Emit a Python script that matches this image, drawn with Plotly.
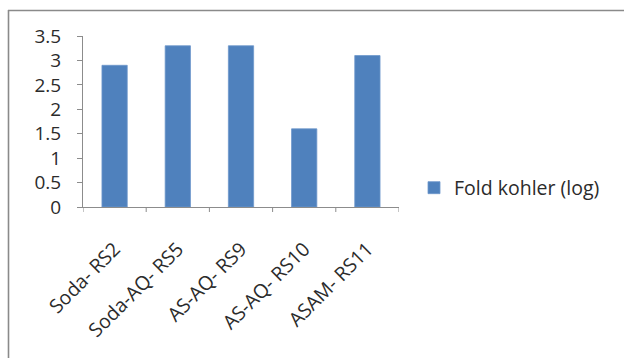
import plotly.graph_objects as go

# Pulping samples and their folding endurance (log of double folds)
categories = ["Soda- RS2", "Soda-AQ- RS5", "AS-AQ- RS9", "AS-AQ- RS10", "ASAM- RS11"]
fold_kohler_log = [2.9, 3.3, 3.3, 1.6, 3.1]
y_ticks = [0, 0.5, 1, 1.5, 2, 2.5, 3, 3.5]
y_tick_labels = ["0", "0.5", "1", "1.5", "2", "2.5", "3", "3.5"]
series_name = "Fold kohler (log)"

W, H = 624, 358
L, R, T, B = 83, 225, 36, 151
pw, ph = W - L - R, H - T - B


def px_x(x):
    return (x - L) / pw


def px_y(y):
    return (H - B - y) / ph


font_family = "'Open Sans', Lato, sans-serif"
axis_col = "#8c8c8c"
text_col = "#2b2b2b"

fig = go.Figure(
    go.Bar(
        x=categories,
        y=fold_kohler_log,
        name=series_name,
        marker=dict(color="#4F81BD", line=dict(color="#6d97cb", width=0.8)),
        width=0.4,
        showlegend=True,
    )
)

# visible category-boundary tick marks below the x axis
boundary_ticks = [
    dict(type="line", xref="x", yref="paper",
         x0=i - 0.5, x1=i - 0.5, y0=0, y1=-5 / ph,
         line=dict(color=axis_col, width=1))
    for i in range(len(categories) + 1)
]

frame = [
    dict(type="line", xref="paper", yref="paper",
         x0=px_x(8), x1=px_x(W + 5), y0=px_y(10.5), y1=px_y(10.5),
         line=dict(color="#8a8a8a", width=1.6)),
    dict(type="line", xref="paper", yref="paper",
         x0=px_x(8.5), x1=px_x(8.5), y0=px_y(10), y1=px_y(H + 5),
         line=dict(color="#8a8a8a", width=1.6)),
]

fig.update_layout(
    width=W,
    height=H,
    margin=dict(l=L, r=R, t=T, b=B, pad=0),
    paper_bgcolor="white",
    plot_bgcolor="white",
    font=dict(family=font_family, color=text_col),
    showlegend=True,
    legend=dict(
        x=px_x(414),
        y=px_y(188),
        xanchor="left",
        yanchor="middle",
        font=dict(size=19.5, color=text_col),
        bgcolor="rgba(0,0,0,0)",
    ),
    xaxis=dict(
        type="category",
        showline=True,
        linecolor=axis_col,
        linewidth=1,
        ticks="outside",
        ticklen=22,
        tickcolor="rgba(0,0,0,0)",
        tickangle=-45,
        tickfont=dict(size=19.5, color=text_col),
        showgrid=False,
        range=[-0.5, 4.5],
    ),
    yaxis=dict(
        range=[0, 3.5],
        tickvals=y_ticks,
        ticktext=y_tick_labels,
        showline=True,
        linecolor=axis_col,
        linewidth=1,
        ticks="outside",
        ticklen=5,
        tickcolor=axis_col,
        ticklabelstandoff=12,
        tickfont=dict(size=19, color=text_col),
        showgrid=False,
        zeroline=False,
    ),
    shapes=boundary_ticks + frame,
)

fig.write_html("out.html")
